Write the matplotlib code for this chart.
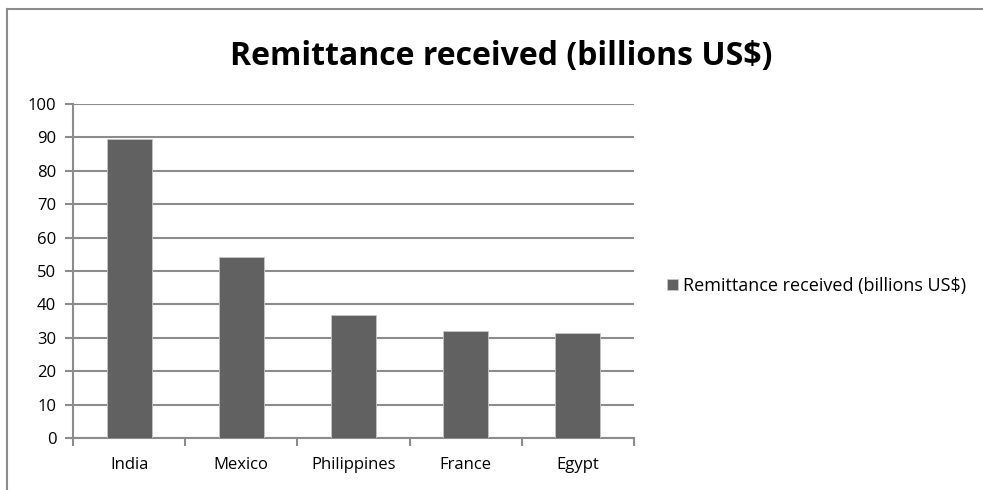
import matplotlib
matplotlib.use("Agg")
import matplotlib.pyplot as plt
from matplotlib.lines import Line2D

plt.rcParams['font.family'] = ['Liberation Sans Narrow', 'Open Sans', 'DejaVu Sans']

countries = ["India", "Mexico", "Philippines", "France", "Egypt"]
remittance = [89.4, 54.1, 36.7, 32.0, 31.3]
series_name = "Remittance received (billions US$)"
y_ticks = list(range(0, 101, 10))

W, H = 983, 490
fig = plt.figure(figsize=(W / 100, H / 100), dpi=100)

# outer chart frame: only top and left edges are visible in the reference
frame_y = 1 - 9 / H
frame_x = 7 / W
fig.lines.append(Line2D([frame_x, 1.05], [frame_y, frame_y], transform=fig.transFigure,
                        color="#8c8c8c", linewidth=1.5))
fig.lines.append(Line2D([frame_x, frame_x], [-0.05, frame_y], transform=fig.transFigure,
                        color="#8c8c8c", linewidth=1.5))

ax = fig.add_axes([73 / W, 1 - 438 / H, (634 - 73) / W, (438 - 104) / H])

x = range(len(countries))
ax.bar(x, remittance, width=0.4, color="#616161", edgecolor="#c8c8c8", linewidth=0.6,
       label=series_name, zorder=3)

ax.set_xlim(-0.5, len(countries) - 0.5)
ax.set_ylim(0, 100)
ax.set_yticks(y_ticks)
ax.set_yticklabels([str(v) for v in y_ticks], fontsize=12)
ax.yaxis.grid(True, color="#8c8c8c", linewidth=1.5, zorder=0)
ax.set_xticks(list(x))
ax.set_xticklabels(countries, fontsize=12)
ax.tick_params(axis="x", length=0, pad=14)
ax.tick_params(axis="y", length=6, width=1.5, color="#8c8c8c", pad=6)
# category boundary ticks on x axis
ax.set_xticks([i - 0.5 for i in range(len(countries) + 1)], minor=True)
ax.tick_params(axis="x", which="minor", length=6, width=1.5, color="#8c8c8c")

for side in ["top", "right"]:
    ax.spines[side].set_visible(False)
for side in ["left", "bottom"]:
    ax.spines[side].set_color("#8c8c8c")
    ax.spines[side].set_linewidth(1.5)

fig.text(501 / W, 1 - 56 / H, series_name, ha="center", va="center",
         fontsize=23, fontweight="bold")

fig.legend(loc="center left", bbox_to_anchor=(660 / W, 1 - 286 / H), frameon=False,
           fontsize=13, handlelength=0.6, handleheight=0.6, handletextpad=0.3,
           borderaxespad=0)

fig.savefig("out.png", dpi=100)
